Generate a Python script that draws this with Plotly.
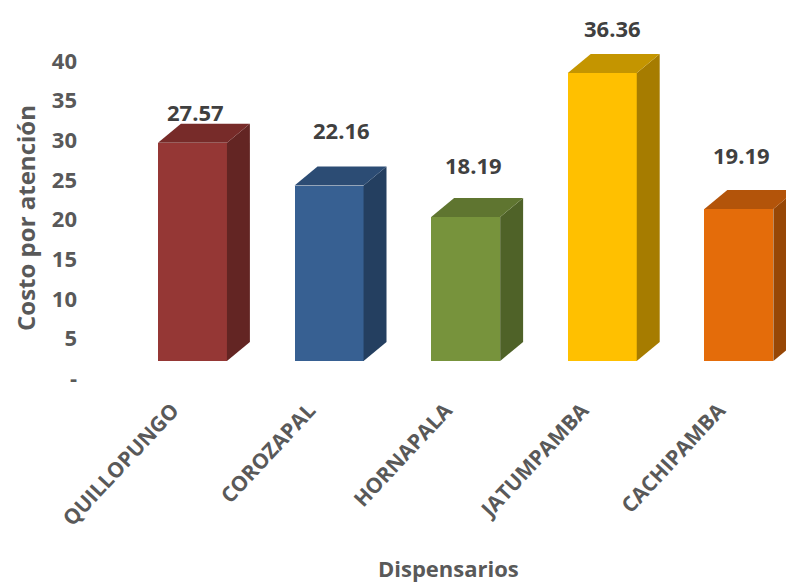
import plotly.graph_objects as go

# ---- data ----
categories = ["QUILLOPUNGO", "COROZAPAL", "HORNAPALA", "JATUMPAMBA", "CACHIPAMBA"]
values = [27.57, 22.16, 18.19, 36.36, 19.19]
y_tick_vals = [0, 5, 10, 15, 20, 25, 30, 35, 40]
y_tick_text = ["-", "5", "10", "15", "20", "25", "30", "35", "40"]
y_title = "Costo por atención"
x_title = "Dispensarios"

# ---- style ----
front_colors = ["#953735", "#376092", "#77933C", "#FFC000", "#E46C0A"]
top_colors = ["#772B29", "#2C4C74", "#5F7530", "#C49500", "#B3540A"]
side_colors = ["#632523", "#243F60", "#4F6228", "#A67C00", "#974706"]
label_lift_px = [31, 56, 52, 45, 54]
label_shift_x = [3, 12, 8, 10, 3]

bar_w = 0.505
depth_x = 0.168
depth_y = 2.4

FONT = "Open Sans"
GRAY = "#595959"

W, H = 786, 582
ml, mr, mt, mb = 84, 0, 20, 204
pw, ph = W - ml - mr, H - mt - mb


def px_to_paper(xp, yp):
    return (xp - ml) / pw, 1 - (yp - mt) / ph


fig = go.Figure()

idx = list(range(len(categories)))

# invisible trace so the labelled y axis is drawn
fig.add_trace(go.Scatter(
    x=[idx[0]], y=[y_tick_vals[0]], mode="markers",
    marker=dict(opacity=0), hoverinfo="skip", showlegend=False,
))

# front faces
fig.add_trace(go.Bar(
    x=idx, y=values, width=bar_w, yaxis="y2",
    marker=dict(color=front_colors, line=dict(width=0)),
    hoverinfo="skip", showlegend=False,
))

# side and top faces (derived from data values)
for i, v in enumerate(values):
    xl = i - bar_w / 2
    xr = i + bar_w / 2
    fig.add_trace(go.Scatter(
        x=[xr, xr + depth_x, xr + depth_x, xr, xr],
        y=[0, depth_y, v + depth_y, v, 0],
        yaxis="y2", mode="lines", fill="toself",
        fillcolor=side_colors[i], line=dict(width=0),
        hoverinfo="skip", showlegend=False,
    ))
    fig.add_trace(go.Scatter(
        x=[xl, xl + depth_x, xr + depth_x, xr, xl],
        y=[v, v + depth_y, v + depth_y, v, v],
        yaxis="y2", mode="lines", fill="toself",
        fillcolor=top_colors[i], line=dict(width=0),
        hoverinfo="skip", showlegend=False,
    ))

annotations = []
for i, v in enumerate(values):
    annotations.append(dict(
        x=i, y=v, xref="x", yref="y2", text=f"{v:.2f}",
        showarrow=False, yshift=label_lift_px[i], xshift=label_shift_x[i],
        font=dict(family=FONT, size=22, color="#404040", weight="bold"),
    ))

tx, ty = px_to_paper(25, 218)
annotations.append(dict(
    x=tx, y=ty, xref="paper", yref="paper", text=y_title, textangle=-90,
    xanchor="center", yanchor="middle", showarrow=False,
    font=dict(family=FONT, size=24, color=GRAY, weight="bold"),
))
tx, ty = px_to_paper(448, 568)
annotations.append(dict(
    x=tx, y=ty, xref="paper", yref="paper", text=x_title,
    xanchor="center", yanchor="middle", showarrow=False,
    font=dict(family=FONT, size=22, color=GRAY, weight="bold"),
))

fig.update_layout(
    width=W, height=H,
    margin=dict(l=ml, r=mr, t=mt, b=mb, autoexpand=False),
    paper_bgcolor="white", plot_bgcolor="white",
    xaxis=dict(
        range=[-0.794, 4.345], tickmode="array", tickvals=idx, ticktext=categories,
        tickangle=-47, showgrid=False, zeroline=False, showline=False, ticks="",
        ticklabelstandoff=15, ticklabelshift=-20,
        tickfont=dict(family=FONT, size=21, color=GRAY, weight="bold"),
    ),
    yaxis=dict(
        range=[0, 45.2], tickmode="array", tickvals=y_tick_vals, ticktext=y_tick_text,
        showgrid=False, zeroline=False, showline=False, ticks="",
        ticklabelstandoff=6,
        tickfont=dict(family=FONT, size=22, color=GRAY, weight="bold"),
    ),
    yaxis2=dict(
        range=[-2.15, 43.06], overlaying="y", visible=False,
    ),
    annotations=annotations,
    bargap=0,
)

fig.write_html(
    "out.html",
    config={"displayModeBar": False},
    post_script="document.body.style.margin='0';",
)
